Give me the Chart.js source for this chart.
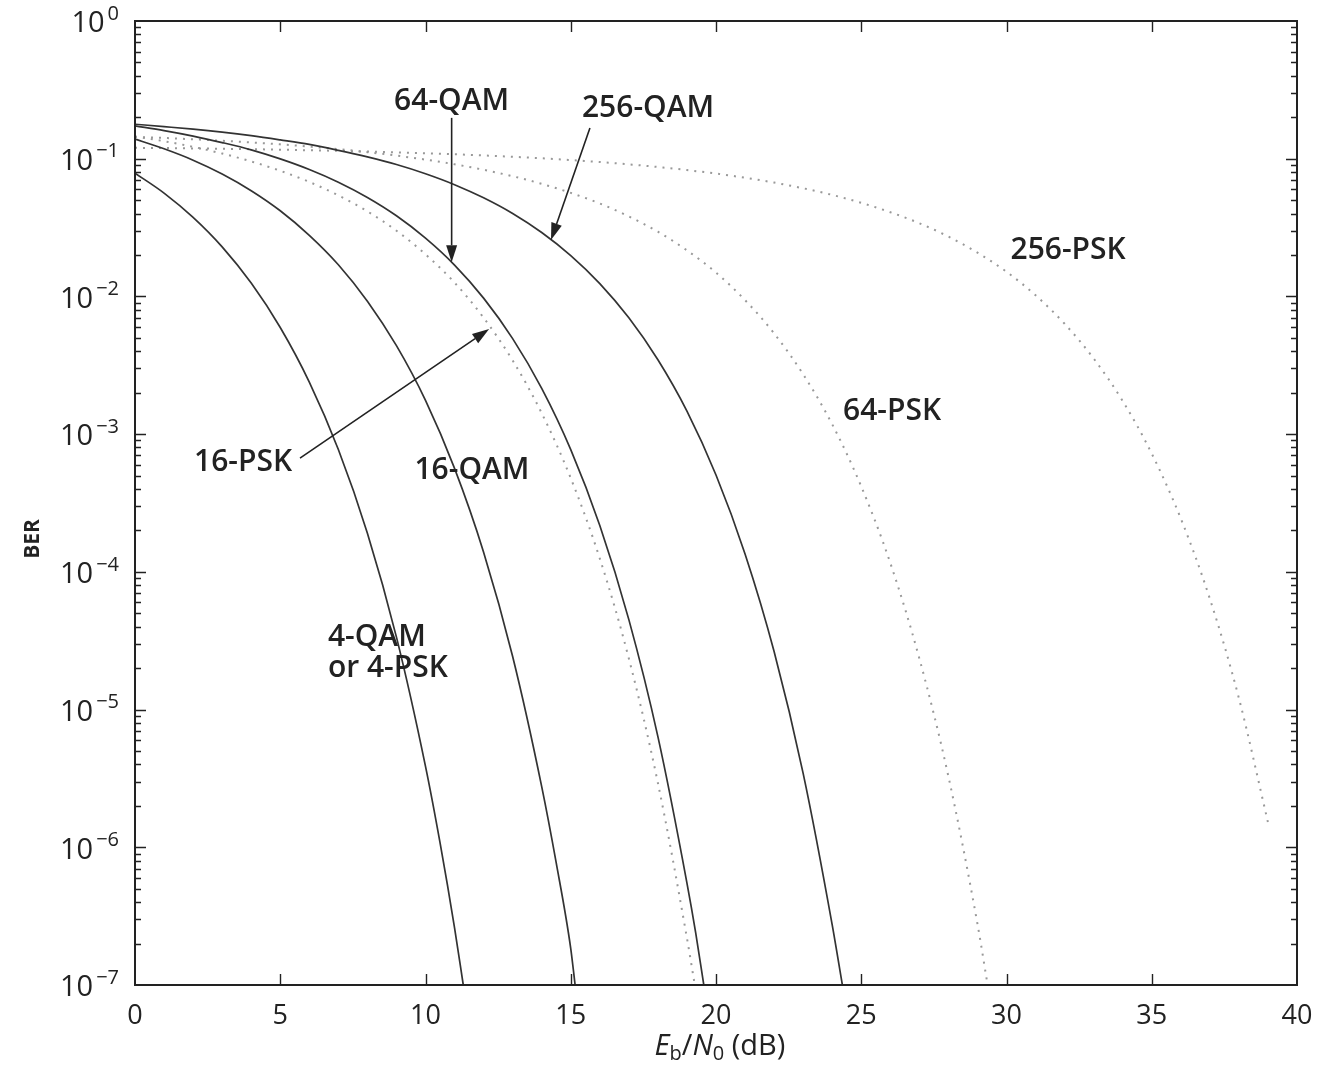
<!DOCTYPE html>
<html>
<head>
<meta charset="utf-8">
<title>BER of QAM and PSK</title>
<script src="https://cdn.jsdelivr.net/npm/chart.js@4.4.1/dist/chart.umd.min.js"></script>
<style>
  html, body { margin: 0; padding: 0; background: #ffffff; }
  #wrap { width: 1329px; height: 1066px; }
</style>
</head>
<body>
<div id="wrap"><canvas id="ber" width="1329" height="1066"></canvas></div>
<script>
// ---- Bit error rate versus Eb/N0 (dB) ----
const EBN0_4QAM = [0, 1, 2, 3, 4, 5, 6, 7, 8, 9, 10, 10.5, 11, 11.3];
const BER_4QAM  = [0.0786, 0.0563, 0.0375, 0.0229, 0.0125, 0.00595, 0.00239, 7.73e-4, 1.91e-4, 3.36e-5, 3.87e-6, 1.08e-6, 2.6e-7, 1e-7];

const EBN0_16QAM = [0, 1, 2, 3, 4, 5, 6, 7, 8, 9, 10, 11, 12, 13, 14, 14.5, 15, 15.15];
const BER_16QAM  = [0.139, 0.118, 0.0976, 0.0775, 0.0586, 0.0419, 0.0278, 0.0170, 0.00924, 0.00439, 0.00176, 5.64e-4, 1.39e-4, 2.43e-5, 2.76e-6, 7.7e-7, 1.84e-7, 1e-7];

const EBN0_64QAM = [0, 1, 2, 3, 4, 5, 6, 7, 8, 9, 10, 11, 12, 13, 14, 15, 16, 17, 18, 19, 19.3, 19.58];
const BER_64QAM  = [0.173, 0.160, 0.146, 0.131, 0.116, 0.0997, 0.0835, 0.0675, 0.0523, 0.0385, 0.0265, 0.0169, 0.00972, 0.00494, 0.00215, 7.72e-4, 2.17e-4, 4.5e-5, 6.36e-6, 5.5e-7, 2.4e-7, 1e-7];

const EBN0_256QAM = [0, 1, 2, 3, 4, 5, 6, 7, 8, 9, 10, 11, 12, 13, 14, 15, 16, 17, 18, 19, 20, 21, 22, 23, 24, 24.35];
const BER_256QAM  = [0.178, 0.171, 0.164, 0.156, 0.147, 0.137, 0.127, 0.115, 0.103, 0.0908, 0.0778, 0.0648, 0.0520, 0.0400, 0.0291, 0.0198, 0.0124, 0.0070, 0.00347, 0.00147, 5.05e-4, 1.35e-4, 2.64e-5, 3.44e-6, 2.73e-7, 1e-7];

const EBN0_16PSK = [0, 1, 2, 3, 4, 5, 6, 7, 8, 9, 10, 11, 12, 13, 14, 15, 16, 17, 18, 19, 19.27];
const BER_16PSK  = [0.145, 0.134, 0.122, 0.109, 0.0955, 0.0817, 0.0678, 0.0542, 0.0415, 0.0300, 0.0202, 0.0126, 0.0070, 0.00343, 0.00142, 4.79e-4, 1.25e-4, 2.35e-5, 2.93e-6, 2.19e-7, 1e-7];

const EBN0_64PSK = [0, 1, 2, 3, 4, 5, 6, 7, 8, 9, 10, 11, 12, 13, 14, 15, 16, 17, 18, 19, 20, 21, 22, 23, 24, 25, 26, 27, 28, 29, 29.35];
const BER_64PSK  = [0.144, 0.1415, 0.1384, 0.1350, 0.1313, 0.1271, 0.1224, 0.1173, 0.1116, 0.1053, 0.0985, 0.0911, 0.0831, 0.0746, 0.0657, 0.0565, 0.0473, 0.0381, 0.0295, 0.0216, 0.0149, 0.0094, 0.00539, 0.00272, 0.00118, 4.17e-4, 1.16e-4, 2.35e-5, 3.27e-6, 2.78e-7, 1e-7];

const EBN0_256PSK = [0, 1, 2, 3, 4, 5, 6, 7, 8, 9, 10, 11, 12, 13, 14, 15, 16, 17, 18, 19, 20, 21, 22, 23, 24, 25, 26, 27, 28, 29, 30, 31, 32, 33, 34, 35, 36, 37, 38, 39];
const BER_256PSK  = [0.120, 0.1195, 0.1188, 0.1181, 0.1173, 0.1163, 0.1152, 0.1141, 0.1127, 0.1112, 0.1096, 0.1077, 0.1056, 0.1033, 0.1007, 0.0978, 0.0946, 0.0910, 0.0871, 0.0827, 0.0780, 0.0727, 0.0671, 0.0610, 0.0546, 0.0478, 0.0409, 0.0340, 0.0272, 0.0208, 0.0151, 0.0102, 0.00633, 0.00354, 0.00174, 7.22e-4, 2.44e-4, 6.38e-5, 1.21e-5, 1.52e-6];

const X_TICKS = [0, 5, 10, 15, 20, 25, 30, 35, 40];
const Y_EXPONENTS = [0, -1, -2, -3, -4, -5, -6, -7];

// ---- curve labels and arrows, placed in data units (dB, BER) ----
const NOTES = [
  { text: '64-QAM',   at: [10.9, 0.262],   align: 'center' },
  { text: '256-QAM',  at: [17.66, 0.230],  align: 'center' },
  { text: '16-PSK',   at: [3.72, 6.27e-4], align: 'center' },
  { text: '16-QAM',   at: [11.6, 5.48e-4], align: 'center' },
  { text: '4-QAM',    at: [6.64, 3.36e-5], align: 'left' },
  { text: 'or 4-PSK', at: [6.64, 2.0e-5],  align: 'left' },
  { text: '64-PSK',   at: [26.06, 1.45e-3], align: 'center' },
  { text: '256-PSK',  at: [32.12, 0.0217], align: 'center' }
];
const ARROWS = [
  { from: [10.9, 0.198],   to: [10.9, 0.0177] },
  { from: [15.66, 0.167],  to: [14.32, 0.0257] },
  { from: [5.68, 6.7e-4],  to: [12.19, 0.0058] }
];

const INK = '#222222';
const SOLID = '#333333';
const DOTS = '#999999';
const FONT = '"Open Sans", "DejaVu Sans", sans-serif';

function points(xs, ys) { return xs.map((x, i) => ({ x: x, y: ys[i] })); }

function solidSet(label, xs, ys) {
  return { label, data: points(xs, ys), borderColor: SOLID, borderWidth: 1.7,
           pointRadius: 0, fill: false, cubicInterpolationMode: 'monotone' };
}
function dottedSet(label, xs, ys) {
  return { label, data: points(xs, ys), borderColor: DOTS, borderWidth: 2,
           borderDash: [2, 6], pointRadius: 0, fill: false, cubicInterpolationMode: 'monotone' };
}

// frame, inward ticks, tick labels, axis titles and annotations
const decorations = {
  id: 'decorations',
  afterDraw(chart) {
    const ctx = chart.ctx, xs = chart.scales.x, ys = chart.scales.y, a = chart.chartArea;
    ctx.save();

    // annotations
    ctx.fillStyle = INK;
    ctx.font = '600 30px ' + FONT;
    ctx.textBaseline = 'middle';
    NOTES.forEach(n => {
      ctx.textAlign = n.align;
      ctx.fillText(n.text, xs.getPixelForValue(n.at[0]), ys.getPixelForValue(n.at[1]));
    });
    ctx.strokeStyle = INK;
    ctx.lineWidth = 1.6;
    ARROWS.forEach(ar => {
      const x0 = xs.getPixelForValue(ar.from[0]), y0 = ys.getPixelForValue(ar.from[1]);
      const x1 = xs.getPixelForValue(ar.to[0]), y1 = ys.getPixelForValue(ar.to[1]);
      const ang = Math.atan2(y1 - y0, x1 - x0), L = 17, W = 5.5;
      const bx = x1 - L * Math.cos(ang), by = y1 - L * Math.sin(ang);
      ctx.beginPath(); ctx.moveTo(x0, y0); ctx.lineTo(bx, by); ctx.stroke();
      ctx.beginPath();
      ctx.moveTo(x1, y1);
      ctx.lineTo(bx + W * Math.sin(ang), by - W * Math.cos(ang));
      ctx.lineTo(bx - W * Math.sin(ang), by + W * Math.cos(ang));
      ctx.closePath(); ctx.fill();
    });

    // frame
    ctx.strokeStyle = INK;
    ctx.lineWidth = 2;
    ctx.strokeRect(a.left, a.top, a.right - a.left, a.bottom - a.top);

    // inward ticks
    ctx.lineWidth = 1.4;
    ctx.beginPath();
    X_TICKS.forEach(v => {
      const px = Math.round(xs.getPixelForValue(v)) + 0.5;
      if (px <= a.left + 2 || px >= a.right - 2) return;
      ctx.moveTo(px, a.bottom); ctx.lineTo(px, a.bottom - 11);
      ctx.moveTo(px, a.top); ctx.lineTo(px, a.top + 11);
    });
    for (let e = -7; e < 0; e++) {
      for (let m = 1; m < 10; m++) {
        if (m === 1 && e === -7) continue;
        const py = Math.round(ys.getPixelForValue(m * Math.pow(10, e))) + 0.5;
        const len = m === 1 ? 11 : 6;
        ctx.moveTo(a.left, py); ctx.lineTo(a.left + len, py);
        ctx.moveTo(a.right, py); ctx.lineTo(a.right - len, py);
      }
    }
    ctx.stroke();

    // x tick labels
    ctx.fillStyle = INK;
    ctx.font = '500 27px ' + FONT;
    ctx.textAlign = 'center';
    ctx.textBaseline = 'middle';
    X_TICKS.forEach(v => ctx.fillText(String(v), xs.getPixelForValue(v), a.bottom + 31));

    // y tick labels: 10 with a raised exponent
    const right = 119;
    Y_EXPONENTS.forEach(e => {
      const py = ys.getPixelForValue(Math.pow(10, e));
      const sup = e === 0 ? '0' : '\u2212' + String(-e);
      ctx.font = '500 20px ' + FONT;
      const sw = ctx.measureText(sup).width;
      ctx.textAlign = 'left';
      ctx.fillText(sup, right - sw, py - 7);
      ctx.font = '500 29px ' + FONT;
      ctx.textAlign = 'right';
      ctx.fillText('10', right - sw - 3, py + 3);
    });

    // y axis title
    ctx.save();
    ctx.translate(33, (a.top + a.bottom) / 2 + 36);
    ctx.rotate(-Math.PI / 2);
    ctx.font = 'bold 21px ' + FONT;
    ctx.textAlign = 'center';
    ctx.fillText('BER', 0, 0);
    ctx.restore();

    // x axis title: Eb/N0 (dB)
    const parts = [
      { t: 'E', f: 'italic 500 29px ' + FONT, dy: 0 },
      { t: 'b', f: '500 20px ' + FONT, dy: 7 },
      { t: '/', f: '500 29px ' + FONT, dy: 0 },
      { t: 'N', f: 'italic 500 29px ' + FONT, dy: 0 },
      { t: '0', f: '500 20px ' + FONT, dy: 7 },
      { t: ' (dB)', f: '500 29px ' + FONT, dy: 0 }
    ];
    let total = 0;
    parts.forEach(p => { ctx.font = p.f; p.w = ctx.measureText(p.t).width; total += p.w; });
    let cx = (a.left + a.right) / 2 - total / 2 + 4;
    const ty = a.bottom + 62;
    ctx.textAlign = 'left';
    parts.forEach(p => { ctx.font = p.f; ctx.fillText(p.t, cx, ty + p.dy); cx += p.w; });

    ctx.restore();
  }
};

new Chart(document.getElementById('ber'), {
  type: 'line',
  data: {
    datasets: [
      solidSet('4-QAM', EBN0_4QAM, BER_4QAM),
      solidSet('16-QAM', EBN0_16QAM, BER_16QAM),
      solidSet('64-QAM', EBN0_64QAM, BER_64QAM),
      solidSet('256-QAM', EBN0_256QAM, BER_256QAM),
      dottedSet('16-PSK', EBN0_16PSK, BER_16PSK),
      dottedSet('64-PSK', EBN0_64PSK, BER_64PSK),
      dottedSet('256-PSK', EBN0_256PSK, BER_256PSK)
    ]
  },
  options: {
    responsive: false,
    animation: false,
    devicePixelRatio: 1,
    layout: { padding: { top: 21, right: 32, left: 0, bottom: 0 } },
    plugins: { legend: { display: false }, tooltip: { enabled: false } },
    scales: {
      x: {
        type: 'linear', min: 0, max: 40,
        grid: { display: false }, border: { display: false },
        ticks: { display: false },
        afterFit: s => { s.height = 81; }
      },
      y: {
        type: 'logarithmic', min: 1e-7, max: 1,
        grid: { display: false }, border: { display: false },
        ticks: { display: false },
        afterFit: s => { s.width = 135; }
      }
    }
  },
  plugins: [decorations]
});
</script>
</body>
</html>
